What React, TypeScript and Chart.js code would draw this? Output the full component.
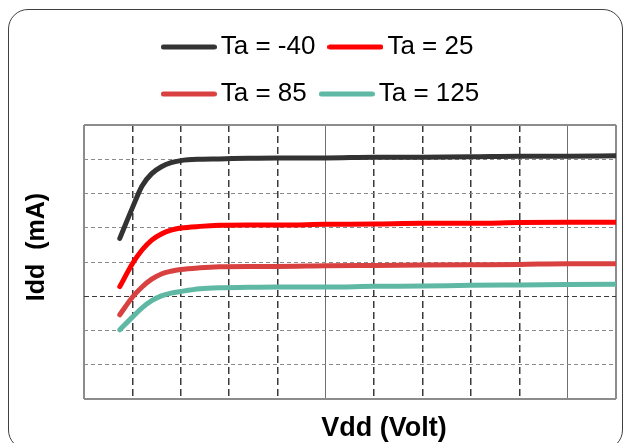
import React, { useEffect, useRef } from 'react';
import { Chart, registerables } from 'chart.js';

Chart.register(...registerables);

// ---------- data ----------
const VDD = [1.37, 1.5, 1.6, 1.7, 1.8, 1.9, 2.0, 2.2, 2.4, 2.7, 3.0, 3.5, 4.0, 4.5, 5.0, 5.5, 6.0, 6.5];
const IDD_M40 = [4.69, 5.58, 6.22, 6.58, 6.78, 6.9, 6.96, 7.0, 7.01, 7.03, 7.04, 7.04, 7.06, 7.06, 7.07, 7.09, 7.09, 7.1];
const IDD_25 = [3.28, 3.95, 4.35, 4.64, 4.82, 4.93, 4.99, 5.04, 5.07, 5.08, 5.08, 5.1, 5.11, 5.13, 5.13, 5.15, 5.16, 5.16];
const IDD_85 = [2.46, 2.97, 3.27, 3.5, 3.65, 3.73, 3.78, 3.83, 3.86, 3.87, 3.87, 3.89, 3.9, 3.91, 3.92, 3.93, 3.95, 3.95];
const IDD_125 = [2.02, 2.39, 2.66, 2.87, 3.01, 3.09, 3.14, 3.22, 3.25, 3.26, 3.27, 3.27, 3.29, 3.3, 3.32, 3.33, 3.34, 3.35];

const SERIES_LABELS = ['Ta = -40', 'Ta = 25', 'Ta = 85', 'Ta = 125'];
const SERIES_VALUES = [IDD_M40, IDD_25, IDD_85, IDD_125];
const SERIES_COLORS = ['#333333', '#ff0000', '#d94141', '#5fb8a4'];

const X_MIN = 1.0;
const X_MAX = 6.5;
const X_STEP = 0.5;
const Y_MIN = 0;
const Y_MAX = 8;
const Y_STEP = 1;

const X_TITLE = 'Vdd (Volt)';
const Y_TITLE = 'Idd  (mA)';

// ---------- style constants ----------
const FONT = "'Liberation Sans', Arial, Helvetica, sans-serif";
const LEGEND_WRAP_WIDTH = 430;
const LEGEND_BOTTOM_GAP = 8;
const X_TITLE_SHIFT = 34;
const Y_TITLE_SHIFT = -15;

function makeLineSample(color: string): HTMLCanvasElement {
  const c = document.createElement('canvas');
  c.width = 56;
  c.height = 8;
  const g = c.getContext('2d')!;
  g.strokeStyle = color;
  g.lineWidth = 5;
  g.lineCap = 'round';
  g.beginPath();
  g.moveTo(2.5, 4);
  g.lineTo(53.5, 4);
  g.stroke();
  return c;
}

function shiftTitle(scale: any, dx: number, dy: number) {
  if (!scale || scale.__titleShifted) return;
  const orig = scale.drawTitle;
  scale.drawTitle = function (...args: any[]) {
    const c = this.ctx;
    c.save();
    c.translate(dx, dy);
    orig.apply(this, args);
    c.restore();
  };
  scale.__titleShifted = true;
}

const tweaks = {
  id: 'tweaks',
  afterInit(chart: any) {
    const lg = chart.legend;
    if (lg && !lg.__patched) {
      const origFit = lg.fit;
      lg.fit = function (this: any) {
        const full = this.maxWidth;
        this.maxWidth = Math.min(full, LEGEND_WRAP_WIDTH);
        origFit.call(this);
        this.maxWidth = full;
        this.width = full;
        if (this.lineWidths && this.lineWidths.length) {
          const m = Math.max(...this.lineWidths);
          this.lineWidths = this.lineWidths.map(() => m);
        }
        if (this.options.display) this.height += LEGEND_BOTTOM_GAP;
      };
      lg.__patched = true;
    }
  },
  beforeDraw(chart: any) {
    shiftTitle(chart.scales.x, X_TITLE_SHIFT, 0);
    shiftTitle(chart.scales.y, 0, Y_TITLE_SHIFT);
  },
};

export default function App() {
  const ref = useRef<HTMLCanvasElement>(null);

  useEffect(() => {
    const canvas = ref.current;
    if (!canvas) return;
    const samples = SERIES_COLORS.map(makeLineSample);
    const xLast = Math.round((X_MAX - X_MIN) / X_STEP);
    const yLast = Math.round((Y_MAX - Y_MIN) / Y_STEP);

    const chart = new Chart(canvas, {
      type: 'line',
      data: {
        datasets: SERIES_LABELS.map((label, i) => ({
          label,
          data: VDD.map((v, j) => ({ x: v, y: SERIES_VALUES[i][j] })),
          borderColor: SERIES_COLORS[i],
          backgroundColor: SERIES_COLORS[i],
          borderWidth: 5,
          borderCapStyle: 'round',
          borderJoinStyle: 'round',
          pointRadius: 0,
          pointHoverRadius: 0,
          cubicInterpolationMode: 'monotone',
          fill: false,
        })),
      },
      options: {
        responsive: false,
        animation: false,
        devicePixelRatio: 1,
        events: [],
        layout: { padding: { left: 33, right: 7, top: 13, bottom: 0 } },
        plugins: {
          tooltip: { enabled: false },
          legend: {
            display: true,
            position: 'top',
            align: 'center',
            labels: {
              color: '#000000',
              font: { family: FONT, size: 26 },
              padding: 21,
              usePointStyle: true,
              pointStyleWidth: 38,
              generateLabels: (ch: any) => {
                const items = (Chart.defaults.plugins.legend.labels as any).generateLabels(ch);
                return items.map((it: any) => ({ ...it, pointStyle: samples[it.datasetIndex] }));
              },
            },
          },
        },
        scales: {
          x: {
            type: 'linear',
            min: X_MIN,
            max: X_MAX,
            ticks: { display: false, stepSize: X_STEP },
            grid: {
              drawTicks: false,
              color: (c: any) =>
                c.index === 0 || c.index === xLast ? '#8c8c8c' : c.index % 5 === 0 ? '#707070' : '#3a3a3a',
              lineWidth: (c: any) =>
                c.index === 0 || c.index === xLast ? 2 : c.index % 5 === 0 ? 1 : 1.5,
            },
            border: {
              display: false,
              dash: (c: any) => (c.index === 0 || c.index === xLast || c.index % 5 === 0 ? [] : [7, 4]),
            },
            title: {
              display: true,
              text: X_TITLE,
              color: '#000000',
              font: { family: FONT, size: 27, weight: 'bold', lineHeight: 1 },
              padding: { top: 16, bottom: 1 },
            },
          },
          y: {
            type: 'linear',
            min: Y_MIN,
            max: Y_MAX,
            ticks: { display: false, stepSize: Y_STEP },
            grid: {
              drawTicks: false,
              color: (c: any) =>
                c.index === 0 || c.index === yLast ? '#8c8c8c' : c.index === 3 ? '#3a3a3a' : '#8a8a8a',
              lineWidth: (c: any) => (c.index === 0 || c.index === yLast ? 2 : 1),
            },
            border: {
              display: false,
              dash: (c: any) =>
                c.index === 0 || c.index === yLast ? [] : c.index === 3 ? [5, 3] : [4, 3],
            },
            title: {
              display: true,
              text: Y_TITLE,
              color: '#000000',
              font: { family: FONT, size: 25, weight: 'bold', lineHeight: 1 },
              padding: { top: -8, bottom: 34 },
            },
          },
        },
      } as any,
      plugins: [tweaks as any],
    });

    return () => chart.destroy();
  }, []);

  return (
    <div>
      <div
        style={{
          position: 'fixed',
          left: 8,
          top: 9,
          width: 613,
          height: 439,
          border: '1px solid #404040',
          borderRadius: 20,
          boxSizing: 'content-box',
        }}
      />
      <div style={{ position: 'fixed', left: 0, top: 0, width: 623, height: 443 }}>
        <canvas ref={ref} width={623} height={443} style={{ display: 'block' }} />
      </div>
    </div>
  );
}
